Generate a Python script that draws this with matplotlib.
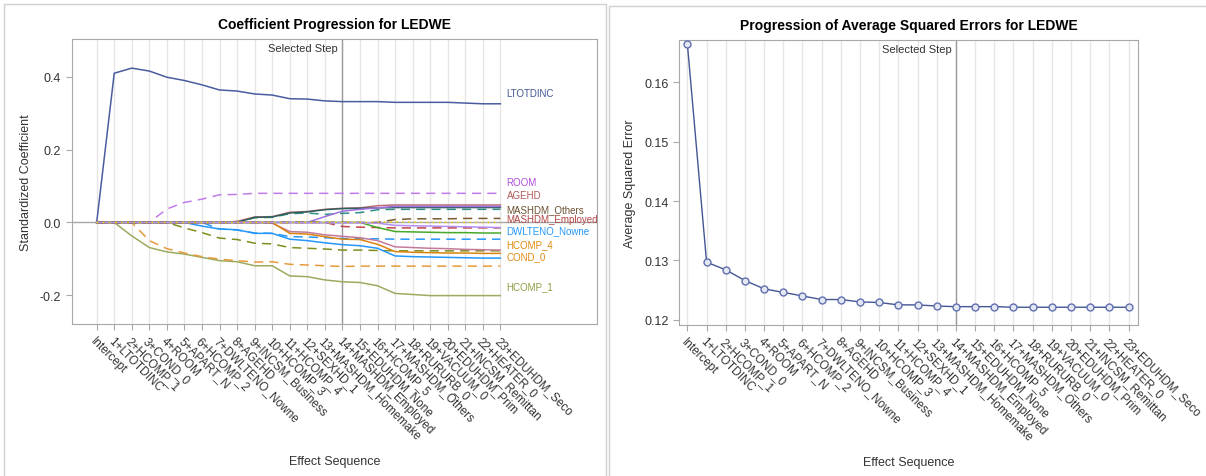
import matplotlib
matplotlib.use("Agg")
import matplotlib.pyplot as plt
from matplotlib.patches import Rectangle

plt.rcParams['font.family'] = ['Liberation Sans', 'DejaVu Sans']

#---------------------------------DATA
steps = list(range(24))
step_labels = ["Intercept", "1+LTOTDINC", "2+HCOMP_1", "3+COND_0", "4+ROOM", "5+APART_N",
               "6+HCOMP_2", "7+DWLTENO_Nowne", "8+AGEHD", "9+INCSM_Business", "10+HCOMP_3",
               "11+HCOMP_4", "12+SEXHD_1", "13+MASHDM_Homemake", "14+MASHDM_Employed",
               "15+EDUHDM_None", "16+HCOMP_5", "17+MASHDM_Others", "18+RURURB_0", "19+VACUUM_0",
               "20+EDUHDM_Prim", "21+INCSM_Remittan", "22+HEATER_0", "23+EDUHDM_Seco"]
selected_step = 14

# standardized coefficient at each step (0 .. 23)
LTOTDINC = [0, 0.410, 0.424, 0.416, 0.399, 0.390, 0.378, 0.364, 0.361, 0.353, 0.350, 0.340,
            0.339, 0.334, 0.332, 0.332, 0.332, 0.330, 0.330, 0.330, 0.330, 0.328, 0.326, 0.326]
HCOMP_1 = [0, 0, -0.037, -0.069, -0.081, -0.087, -0.096, -0.105, -0.108, -0.119, -0.119, -0.147,
           -0.149, -0.158, -0.163, -0.165, -0.174, -0.195, -0.198, -0.201, -0.201, -0.201, -0.201, -0.201]
COND_0 = [0, 0, 0, -0.050, -0.072, -0.084, -0.094, -0.101, -0.105, -0.109, -0.108, -0.115,
          -0.117, -0.119, -0.121, -0.120, -0.120, -0.120, -0.120, -0.120, -0.120, -0.120, -0.120, -0.120]
ROOM = [0, 0, 0, 0, 0.037, 0.055, 0.064, 0.076, 0.077, 0.080, 0.080, 0.080,
        0.080, 0.080, 0.080, 0.080, 0.080, 0.080, 0.080, 0.080, 0.080, 0.080, 0.080, 0.080]
APART_N = [0, 0, 0, 0, 0, -0.015, -0.028, -0.043, -0.047, -0.057, -0.059, -0.069,
           -0.071, -0.073, -0.076, -0.076, -0.077, -0.078, -0.078, -0.078, -0.078, -0.078, -0.078, -0.078]
HCOMP_2 = [0, 0, 0, 0, 0, 0, -0.010, -0.018, -0.020, -0.030, -0.030, -0.046,
           -0.050, -0.056, -0.061, -0.064, -0.071, -0.092, -0.094, -0.095, -0.096, -0.097, -0.098, -0.098]
DWLTENO_Nowne = [0, 0, 0, 0, 0, 0, 0, -0.018, -0.021, -0.029, -0.030, -0.039,
                 -0.040, -0.042, -0.044, -0.045, -0.045, -0.046, -0.046, -0.046, -0.046, -0.046, -0.046, -0.046]
AGEHD = [0, 0, 0, 0, 0, 0, 0, 0, 0.003, 0.015, 0.016, 0.028,
         0.030, 0.036, 0.039, 0.040, 0.046, 0.048, 0.048, 0.048, 0.048, 0.048, 0.048, 0.048]
INCSM_Business = [0, 0, 0, 0, 0, 0, 0, 0, 0, 0.014, 0.015, 0.026,
                  0.029, 0.035, 0.038, 0.039, 0.040, 0.041, 0.041, 0.041, 0.041, 0.041, 0.041, 0.041]
EDUHDM_None = [0, 0, 0, 0, 0, 0, 0, 0, 0, 0.013, 0.014, 0.024,
               0.026, 0.022, 0.025, 0.027, 0.035, 0.036, 0.036, 0.036, 0.036, 0.036, 0.036, 0.036]
HCOMP_3 = [0, 0, 0, 0, 0, 0, 0, 0, 0, 0, -0.002, -0.025,
           -0.027, -0.034, -0.038, -0.042, -0.050, -0.067, -0.069, -0.071, -0.072, -0.074, -0.075, -0.076]
HCOMP_4 = [0, 0, 0, 0, 0, 0, 0, 0, 0, 0, 0, -0.030,
           -0.032, -0.039, -0.046, -0.047, -0.060, -0.080, -0.082, -0.083, -0.084, -0.084, -0.085, -0.085]
SEXHD_1 = [0, 0, 0, 0, 0, 0, 0, 0, 0, 0, 0, 0,
           -0.001, -0.001, -0.001, -0.001, -0.002, -0.008, -0.009, -0.010, -0.011, -0.012, -0.013, -0.014]
MASHDM_Homemake = [0, 0, 0, 0, 0, 0, 0, 0, 0, 0, 0, 0,
                   0, 0.016, 0.031, 0.036, 0.040, 0.044, 0.044, 0.044, 0.044, 0.044, 0.044, 0.044]
MASHDM_Employed = [0, 0, 0, 0, 0, 0, 0, 0, 0, 0, 0, 0,
                   0, 0, -0.011, -0.013, -0.014, -0.015, -0.015, -0.015, -0.015, -0.015, -0.015, -0.015]
HCOMP_5 = [0, 0, 0, 0, 0, 0, 0, 0, 0, 0, 0, 0,
           0, 0, 0, 0, -0.014, -0.025, -0.026, -0.027, -0.028, -0.028, -0.029, -0.029]
MASHDM_Others = [0, 0, 0, 0, 0, 0, 0, 0, 0, 0, 0, 0,
                 0, 0, 0, 0, 0, 0.008, 0.010, 0.010, 0.010, 0.011, 0.011, 0.011]
RURURB_0 = [0, 0, 0, 0, 0, 0, 0, 0, 0, 0, 0, 0,
            0, 0, 0, 0, 0, 0.002, 0.001, 0, 0, 0, 0, 0]

# average squared error at each step
ase = [0.1664, 0.1297, 0.1284, 0.1266, 0.1252, 0.1246, 0.1240, 0.1234, 0.1234, 0.1230, 0.1229, 0.1225,
       0.1225, 0.1223, 0.1222, 0.1222, 0.1222, 0.1221, 0.1221, 0.1221, 0.1221, 0.1221, 0.1221, 0.1221]

# label text, label y position, colour (labels are shifted to avoid overlap)
end_labels = [("LTOTDINC", 0.357, "#445694"), ("ROOM", 0.110, "#b04fe0"), ("AGEHD", 0.076, "#b05a5a"),
              ("MASHDM_Others", 0.037, "#6b5030"), ("MASHDM_Employed", 0.009, "#b04545"),
              ("DWLTENO_Nowne", -0.020, "#2597fa"), ("HCOMP_4", -0.060, "#e08a10"),
              ("COND_0", -0.092, "#e08a10"), ("HCOMP_1", -0.174, "#8aa040")]

# (values, colour, linestyle) in drawing order
coef_lines = [
    (LTOTDINC, "#4a5ca0", "-"), (HCOMP_1, "#9bab5f", "-"), (COND_0, "#e69a3c", (0, (6, 4))),
    (ROOM, "#c07ce8", (0, (6, 4))), (APART_N, "#7f8e1f", (0, (6, 4))), (HCOMP_2, "#2597fa", "-"),
    (DWLTENO_Nowne, "#2597fa", (0, (6, 4))), (AGEHD, "#b76a72", "-"), (EDUHDM_None, "#2f8f86", (0, (6, 4))),
    (INCSM_Business, "#2f5f5a", "-"), (HCOMP_3, "#c47a9c", "-"), (HCOMP_4, "#d98410", "-"),
    (MASHDM_Homemake, "#a070e0", "-"), (MASHDM_Employed, "#c04848", (0, (6, 4))),
    (HCOMP_5, "#47a82a", "-"), (MASHDM_Others, "#7a5a35", (0, (6, 4))),
    (SEXHD_1, "#b38ef3", "-"), (RURURB_0, "#f2d000", (0, (1, 3))),
]

#---------------------------------FIGURE
fig = plt.figure(figsize=(12.06, 4.77), dpi=100)
fig.patches.append(Rectangle((4 / 1206, -0.01), 602 / 1206, 1.0 - 5 / 477 + 0.01, transform=fig.transFigure,
                             fill=False, edgecolor="#d0d0d0", lw=1))
fig.patches.append(Rectangle((609 / 1206, -0.01), 0.6, 1.0 - 7 / 477 + 0.01, transform=fig.transFigure,
                             fill=False, edgecolor="#d0d0d0", lw=1))

ax1 = fig.add_axes([0.0595, 0.3187, 0.4353, 0.5974])
ax2 = fig.add_axes([0.5633, 0.3172, 0.3801, 0.5975])


def style_axes(ax):
    for s in ax.spines.values():
        s.set_color("#a8a8a8")
    ax.tick_params(axis='both', colors="#a8a8a8", labelcolor="#333333", labelsize=9, length=4)
    ax.set_xticks(steps)
    ax.set_xticklabels(step_labels, rotation=-45, ha='left', va='top', rotation_mode='anchor', fontsize=8.5)
    for s in steps:
        ax.axvline(s, color="#e6e6e6", lw=1, zorder=0)
    ax.axvline(selected_step, color="#9a9a9a", lw=1, zorder=1)
    ax.set_xlabel("Effect Sequence", fontsize=9, color="#333333", labelpad=10)


#---------------------------------COEFFICIENT PLOT
style_axes(ax1)
ax1.axhline(0, color="#a8a8a8", lw=1, zorder=1)
for vals, col, ls in coef_lines:
    ax1.plot(steps, vals, color=col, linestyle=ls, lw=1.1, zorder=2)
for txt, ypos, col in end_labels:
    ax1.text(23.35, ypos, txt, color=col, fontsize=7, ha='left', va='center')
ax1.set_xlim(-1.42, 28.49)
ax1.set_ylim(-0.279, 0.504)
ax1.set_yticks([-0.2, 0.0, 0.2, 0.4])
ax1.set_yticklabels(["-0.2", "0.0", "0.2", "0.4"])
ax1.set_ylabel("Standardized Coefficient", fontsize=9, color="#333333", labelpad=6)
ax1.set_title("Coefficient Progression for LEDWE", fontsize=10, fontweight='bold', pad=8)
ax1.annotate("Selected Step", xy=(selected_step, 0.504), xytext=(-3, -3), textcoords='offset points',
             ha='right', va='top', fontsize=8, color="#333333")

#---------------------------------ASE PLOT
style_axes(ax2)
ax2.plot(steps, ase, color="#445694", lw=1, marker='o', markersize=5,
         markerfacecolor="#e4e7f2", markeredgecolor="#6070b0", markeredgewidth=1, zorder=3)
ax2.set_xlim(-0.42, 23.48)
ax2.set_ylim(0.11916, 0.16718)
ax2.set_yticks([0.12, 0.13, 0.14, 0.15, 0.16])
ax2.set_yticklabels(["0.12", "0.13", "0.14", "0.15", "0.16"])
ax2.set_ylabel("Average Squared Error", fontsize=9, color="#333333", labelpad=6)
ax2.set_title("Progression of Average Squared Errors for LEDWE", fontsize=10, fontweight='bold', pad=8)
ax2.annotate("Selected Step", xy=(selected_step, 0.16718), xytext=(-3, -3), textcoords='offset points',
             ha='right', va='top', fontsize=8, color="#333333")

fig.savefig("out.png", dpi=100)
